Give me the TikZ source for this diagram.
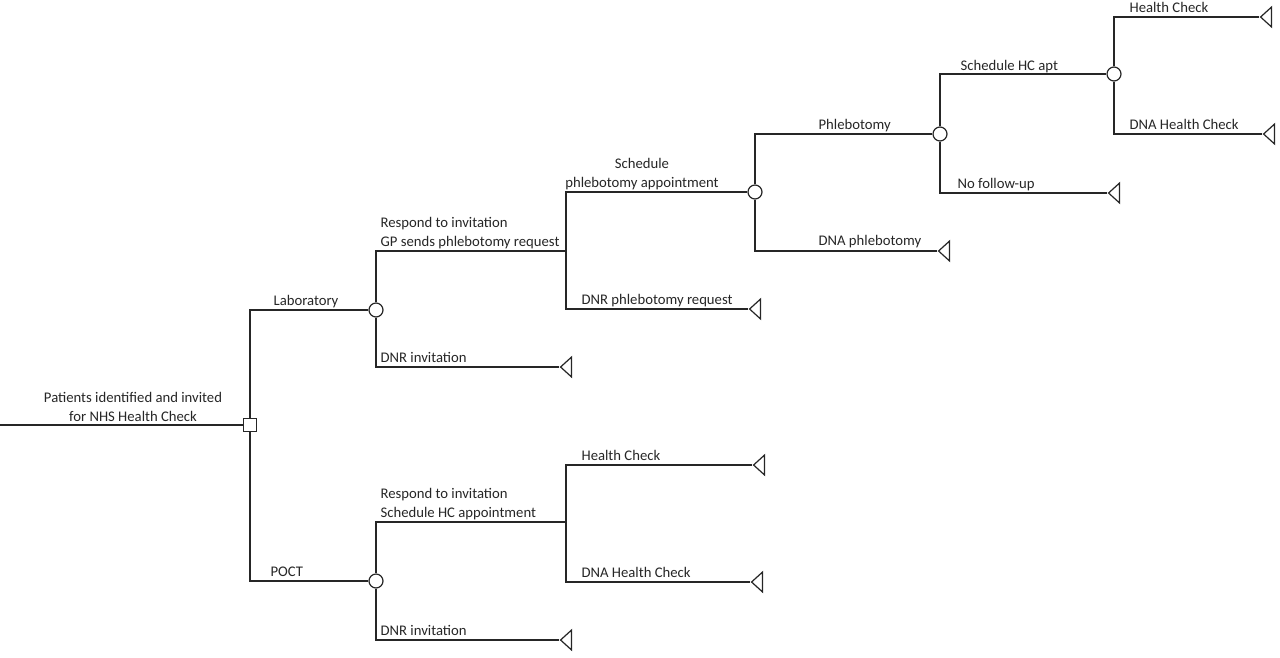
\documentclass[tikz,border=0pt]{standalone}
\usepackage{fontspec}
\setmainfont{Carlito}
\usetikzlibrary{shapes.geometric}
\begin{document}
\begin{tikzpicture}[x=1pt,y=-1pt,line width=1.2pt,
    chance/.style={draw=black!85,circle,fill=white,inner sep=0pt,minimum size=14pt},
    decision/.style={draw=black!85,rectangle,fill=white,inner sep=0pt,minimum size=13pt},
    terminal/.style={draw=black!85,isosceles triangle,shape border rotate=180,
        isosceles triangle stretches,minimum width=20pt,minimum height=11pt,
        inner sep=0pt,fill=white,anchor=apex},
    branch/.style={draw=black!85},
    lbl/.style={font=\fontsize{14.7}{19}\selectfont,inner sep=0pt,anchor=base west,text=black!85}]
    \useasboundingbox (0,0) rectangle (1280,657);
    %% decision and chance nodes
    \coordinate (start) at (0,425);
    \node[decision] (d) at (250,425) {};
    \node[chance] (lab) at (376,310) {};
    \node[chance] (poct) at (376,581) {};
    \coordinate (req) at (566,251);
    \node[chance] (phl) at (755,192) {};
    \node[chance] (fol) at (940,134) {};
    \node[chance] (hc) at (1114,74) {};
    \coordinate (appt) at (566,522);
    %% end points
    \node[terminal] (t1) at (559,367) {};
    \node[terminal] (t2) at (748,309) {};
    \node[terminal] (t3) at (937,251) {};
    \node[terminal] (t4) at (1107,193) {};
    \node[terminal] (t5) at (1259,17) {};
    \node[terminal] (t6) at (1262,134) {};
    \node[terminal] (t7) at (752,465) {};
    \node[terminal] (t8) at (750,582) {};
    \node[terminal] (t9) at (559,640) {};
    %% branches
    \draw[branch] (start) -- (d);
    \draw[branch] (d) |- (lab);
    \draw[branch] (d) |- (poct);
    \draw[branch] (lab) |- (req);
    \draw[branch] (lab) |- (t1.apex);
    \draw[branch] (req) |- (phl);
    \draw[branch] (req) |- (t2.apex);
    \draw[branch] (phl) |- (fol);
    \draw[branch] (phl) |- (t3.apex);
    \draw[branch] (fol) |- (hc);
    \draw[branch] (fol) |- (t4.apex);
    \draw[branch] (hc) |- (t5.apex);
    \draw[branch] (hc) |- (t6.apex);
    \draw[branch] (poct) |- (appt);
    \draw[branch] (poct) |- (t9.apex);
    \draw[branch] (appt) |- (t7.apex);
    \draw[branch] (appt) |- (t8.apex);
    %% labels
    \node[lbl,align=center,anchor=base] (l0) at (133,421) {Patients identified and invited\\for NHS Health Check};
    \node[lbl] (l1) at (273,305) {Laboratory};
    \node[lbl] (l2) at (270,576) {POCT};
    \node[lbl,align=left] (l3) at (380,246) {Respond to invitation\\GP sends phlebotomy request};
    \node[lbl] (l4) at (380,362) {DNR invitation};
    \node[lbl,align=center,anchor=base] (l5) at (642,187) {Schedule\\phlebotomy appointment};
    \node[lbl] (l6) at (581,304) {DNR phlebotomy request};
    \node[lbl] (l7) at (818,129) {Phlebotomy};
    \node[lbl] (l8) at (818,245) {DNA phlebotomy};
    \node[lbl] (l9) at (960,70) {Schedule HC apt};
    \node[lbl] (l10) at (957,188) {No follow-up};
    \node[lbl] (l11) at (1129,12) {Health Check};
    \node[lbl] (l12) at (1129,129) {DNA Health Check};
    \node[lbl,align=left] (l13) at (380,517) {Respond to invitation\\Schedule HC appointment};
    \node[lbl] (l14) at (581,460) {Health Check};
    \node[lbl] (l15) at (581,577) {DNA Health Check};
    \node[lbl] (l16) at (380,635) {DNR invitation};
\end{tikzpicture}
\end{document}
